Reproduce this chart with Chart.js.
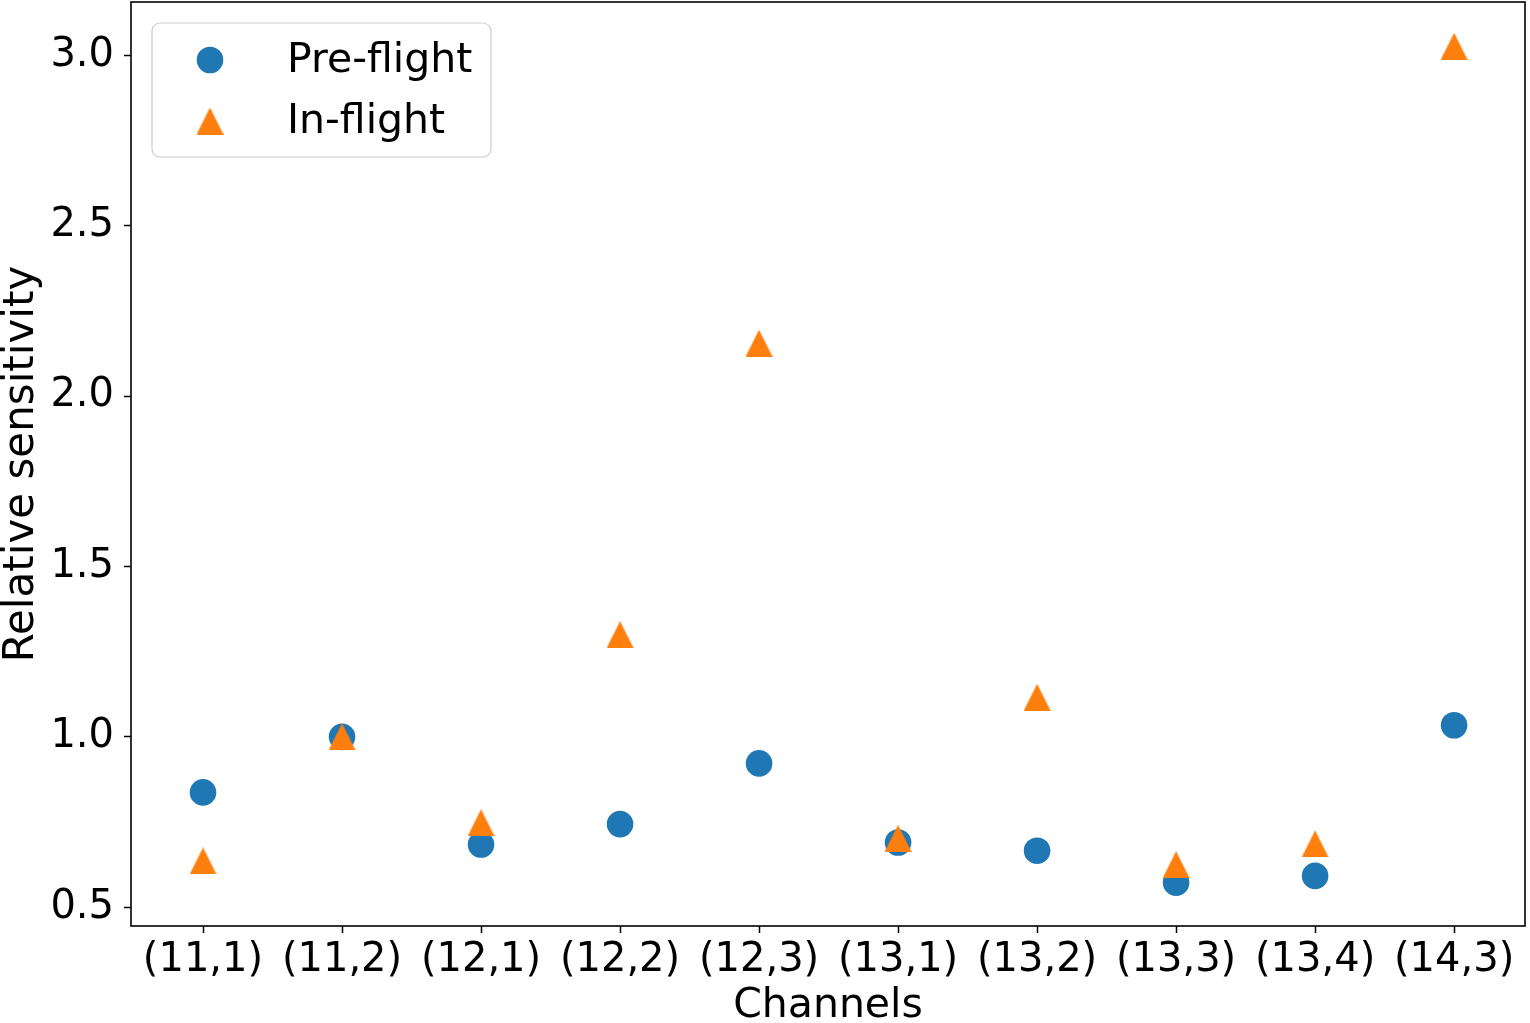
<!DOCTYPE html>
<html>
<head>
<meta charset="utf-8">
<script src="https://cdn.jsdelivr.net/npm/chart.js@4/dist/chart.umd.min.js"></script>
<style>
  html, body { margin: 0; padding: 0; background: #fff; }
  #wrap { width: 1530px; height: 1023px; position: relative; }
</style>
</head>
<body>
<div id="wrap"><canvas id="c" width="1530" height="1023"></canvas></div>
<script>
const categories = ['(11,1)', '(11,2)', '(12,1)', '(12,2)', '(12,3)', '(13,1)', '(13,2)', '(13,3)', '(13,4)', '(14,3)'];
const preFlight = [0.837, 1.0, 0.684, 0.744, 0.922, 0.690, 0.666, 0.572, 0.592, 1.034];
const inFlight = [0.636, 1.0, 0.748, 1.300, 2.155, 0.702, 1.116, 0.625, 0.686, 3.026];
const yTicks = [0.5, 1.0, 1.5, 2.0, 2.5, 3.0];

const BLUE = '#1f77b4';
const ORANGE = '#ff7f0e';
const FONT = 'DejaVu Sans';

// matplotlib-style '^' marker: width == height, centred on bbox
function makeTriangle(size, color) {
  const cv = document.createElement('canvas');
  cv.width = size; cv.height = size;
  const g = cv.getContext('2d');
  g.fillStyle = color;
  g.beginPath();
  g.moveTo(size / 2, 0);
  g.lineTo(size, size);
  g.lineTo(0, size);
  g.closePath();
  g.fill();
  return cv;
}
const triImg = makeTriangle(27, ORANGE);

function zeroPad(scale) {
  scale.paddingTop = 0; scale.paddingBottom = 0;
  scale.paddingLeft = 0; scale.paddingRight = 0;
}

const framePlugin = {
  id: 'frame',
  afterDraw(chart) {
    const { ctx, chartArea: a } = chart;
    ctx.save();
    ctx.strokeStyle = '#000';
    ctx.lineWidth = 1.6;
    ctx.strokeRect(a.left, a.top, a.right - a.left, a.bottom - a.top);

    // legend (matplotlib-like, upper left inside axes)
    const lx = 152, ly = 23, lw = 339, lh = 134, r = 8;
    ctx.beginPath();
    ctx.moveTo(lx + r, ly);
    ctx.arcTo(lx + lw, ly, lx + lw, ly + lh, r);
    ctx.arcTo(lx + lw, ly + lh, lx, ly + lh, r);
    ctx.arcTo(lx, ly + lh, lx, ly, r);
    ctx.arcTo(lx, ly, lx + lw, ly, r);
    ctx.closePath();
    ctx.fillStyle = 'rgba(255,255,255,0.8)';
    ctx.fill();
    ctx.strokeStyle = '#cccccc';
    ctx.lineWidth = 1.2;
    ctx.stroke();

    const ds = chart.data.datasets;
    const rows = [60, 121];
    ctx.font = '41px "' + FONT + '"';
    ctx.textBaseline = 'middle';
    ctx.textAlign = 'left';
    ds.forEach((d, i) => {
      const y = rows[i];
      if (d.pointStyle === 'circle') {
        ctx.beginPath();
        ctx.arc(210, y, 13.3, 0, Math.PI * 2);
        ctx.fillStyle = d.backgroundColor;
        ctx.fill();
      } else {
        ctx.drawImage(d.pointStyle, 210 - 13.5, y - 13.5);
      }
      ctx.fillStyle = '#000';
      ctx.fillText(d.label, 287, y + 1);
    });
    ctx.restore();
  }
};

new Chart(document.getElementById('c'), {
  type: 'scatter',
  data: {
    labels: categories,
    datasets: [
      {
        label: 'Pre-flight',
        data: preFlight.map((v, i) => ({ x: i, y: v })),
        pointStyle: 'circle',
        backgroundColor: BLUE,
        borderColor: BLUE,
        borderWidth: 0,
        pointRadius: 13.3,
        pointHoverRadius: 13.3,
        order: 2
      },
      {
        label: 'In-flight',
        data: inFlight.map((v, i) => ({ x: i, y: v })),
        pointStyle: triImg,
        backgroundColor: ORANGE,
        borderColor: ORANGE,
        borderWidth: 0,
        pointRadius: 13.5,
        order: 1
      }
    ]
  },
  options: {
    responsive: false,
    animation: false,
    devicePixelRatio: 1,
    layout: { autoPadding: false, padding: { top: 2, right: 5, left: 0, bottom: 0 } },
    plugins: {
      legend: { display: false },
      tooltip: { enabled: false }
    },
    scales: {
      x: {
        type: 'linear',
        min: -0.518,
        max: 9.51,
        afterBuildTicks(scale) {
          scale.ticks = categories.map((c, i) => ({ value: i }));
        },
        afterFit(scale) { scale.height = 97; zeroPad(scale); },
        ticks: {
          autoSkip: false,
          maxRotation: 0,
          padding: 4,
          color: '#000',
          font: { family: FONT, size: 40 },
          callback: (v) => categories[v]
        },
        grid: {
          drawOnChartArea: false,
          drawTicks: true,
          tickLength: 7,
          tickColor: '#000',
          tickWidth: 1.5
        },
        border: { display: false },
        title: {
          display: true,
          text: 'Channels',
          color: '#000',
          font: { family: FONT, size: 41, lineHeight: 0.8 },
          padding: { top: 0, bottom: 0 }
        }
      },
      y: {
        min: 0.445,
        max: 3.156,
        afterBuildTicks(scale) {
          scale.ticks = yTicks.map(v => ({ value: v }));
        },
        afterFit(scale) { scale.width = 131; zeroPad(scale); },
        ticks: {
          padding: 10,
          color: '#000',
          font: { family: FONT, size: 40 },
          callback: (v) => Number(v).toFixed(1)
        },
        grid: {
          drawOnChartArea: false,
          drawTicks: true,
          tickLength: 7,
          tickColor: '#000',
          tickWidth: 1.5
        },
        border: { display: false },
        title: {
          display: true,
          text: 'Relative sensitivity',
          color: '#000',
          font: { family: FONT, size: 42, lineHeight: 1 },
          padding: { top: 1, bottom: 0 }
        }
      }
    }
  },
  plugins: [framePlugin]
});
</script>
</body>
</html>
